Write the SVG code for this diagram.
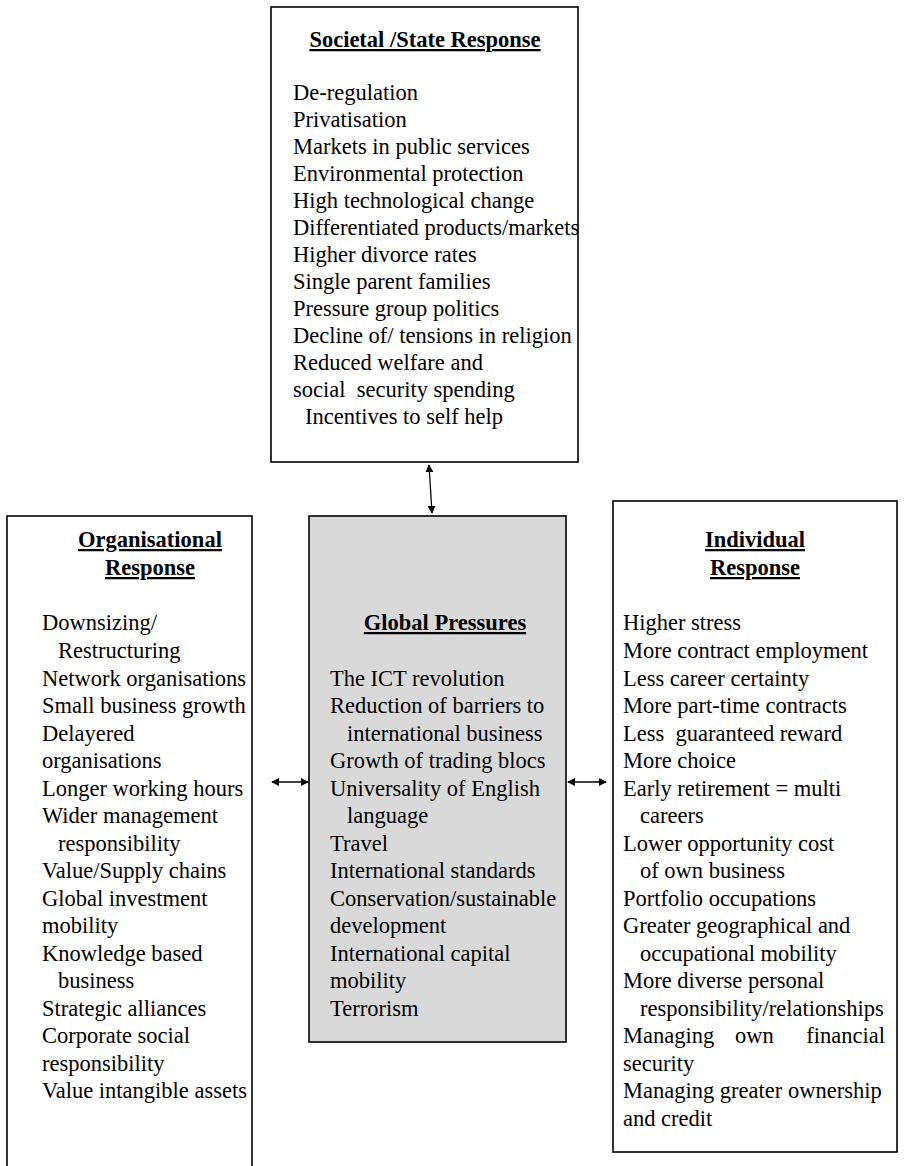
<svg xmlns="http://www.w3.org/2000/svg" width="904" height="1166" viewBox="0 0 904 1166">
<style>
.box{fill:#ffffff;stroke:#000000;stroke-width:1.6}
.grey{fill:#d9d9d9;stroke:#000000;stroke-width:1.6}
text{font-family:"Liberation Serif","Times New Roman",serif;font-size:22.5px;fill:#000000}
.t{font-weight:bold;text-decoration:underline;text-anchor:middle}
.c{stroke:#000000;stroke-width:1.3;fill:none;marker-start:url(#ah);marker-end:url(#ah)}
</style>
<defs>
<marker id="ah" viewBox="0 0 10 10" refX="9" refY="5" markerWidth="8" markerHeight="8" markerUnits="userSpaceOnUse" orient="auto-start-reverse">
<path d="M0,0 L10,5 L0,10 z" fill="#000000"/>
</marker>
</defs>
<g id="societal">
<rect class="box" x="271" y="7" width="307" height="455"/>
<text class="t" x="425" y="47">Societal /State Response</text>
<text x="293" y="100">De-regulation</text>
<text x="293" y="127">Privatisation</text>
<text x="293" y="154">Markets in public services</text>
<text x="293" y="181">Environmental protection</text>
<text x="293" y="208">High technological change</text>
<text x="293" y="235">Differentiated products/markets</text>
<text x="293" y="262">Higher divorce rates</text>
<text x="293" y="289">Single parent families</text>
<text x="293" y="316">Pressure group politics</text>
<text x="293" y="343">Decline of/ tensions in religion</text>
<text x="293" y="370">Reduced welfare and</text>
<text x="293" y="397" xml:space="preserve">social  security spending</text>
<text x="305" y="424">Incentives to self help</text>
</g>
<g id="organisational">
<rect class="box" x="7" y="516" width="245" height="660"/>
<text class="t" x="150" y="547">Organisational</text>
<text class="t" x="150" y="575">Response</text>
<text x="42" y="630">Downsizing/</text>
<text x="58" y="658">Restructuring</text>
<text x="42" y="686">Network organisations</text>
<text x="42" y="713">Small business growth</text>
<text x="42" y="741">Delayered</text>
<text x="42" y="768">organisations</text>
<text x="42" y="796">Longer working hours</text>
<text x="42" y="823">Wider management</text>
<text x="58" y="851">responsibility</text>
<text x="42" y="878">Value/Supply chains</text>
<text x="42" y="906">Global investment</text>
<text x="42" y="933">mobility</text>
<text x="42" y="961">Knowledge based</text>
<text x="58" y="988">business</text>
<text x="42" y="1016">Strategic alliances</text>
<text x="42" y="1043">Corporate social</text>
<text x="42" y="1071">responsibility</text>
<text x="42" y="1098">Value intangible assets</text>
</g>
<g id="global">
<rect class="grey" x="309" y="516" width="257" height="526"/>
<text class="t" x="445" y="630">Global Pressures</text>
<text x="330" y="686">The ICT revolution</text>
<text x="330" y="713">Reduction of barriers to</text>
<text x="347" y="741">international business</text>
<text x="330" y="768">Growth of trading blocs</text>
<text x="330" y="796">Universality of English</text>
<text x="347" y="823">language</text>
<text x="330" y="851">Travel</text>
<text x="330" y="878">International standards</text>
<text x="330" y="906">Conservation/sustainable</text>
<text x="330" y="933">development</text>
<text x="330" y="961">International capital</text>
<text x="330" y="988">mobility</text>
<text x="330" y="1016">Terrorism</text>
</g>
<g id="individual">
<rect class="box" x="613" y="501" width="284" height="651"/>
<text class="t" x="755" y="547">Individual</text>
<text class="t" x="755" y="575">Response</text>
<text x="623" y="630">Higher stress</text>
<text x="623" y="658">More contract employment</text>
<text x="623" y="686">Less career certainty</text>
<text x="623" y="713">More part-time contracts</text>
<text x="623" y="741" xml:space="preserve">Less  guaranteed reward</text>
<text x="623" y="768">More choice</text>
<text x="623" y="796">Early retirement = multi</text>
<text x="640" y="823">careers</text>
<text x="623" y="851">Lower opportunity cost</text>
<text x="640" y="878">of own business</text>
<text x="623" y="906">Portfolio occupations</text>
<text x="623" y="933">Greater geographical and</text>
<text x="640" y="961">occupational mobility</text>
<text x="623" y="988">More diverse personal</text>
<text x="640" y="1016">responsibility/relationships</text>
<text x="623" y="1043">Managing</text>
<text x="735" y="1043">own</text>
<text x="885" y="1043" text-anchor="end">financial</text>
<text x="623" y="1071">security</text>
<text x="623" y="1098">Managing greater ownership</text>
<text x="623" y="1126">and credit</text>
</g>
<g id="connectors">
<line class="c" x1="429" y1="465" x2="432" y2="513"/>
<line class="c" x1="272" y1="782" x2="308" y2="782"/>
<line class="c" x1="568" y1="782" x2="606" y2="782"/>
</g>
</svg>
